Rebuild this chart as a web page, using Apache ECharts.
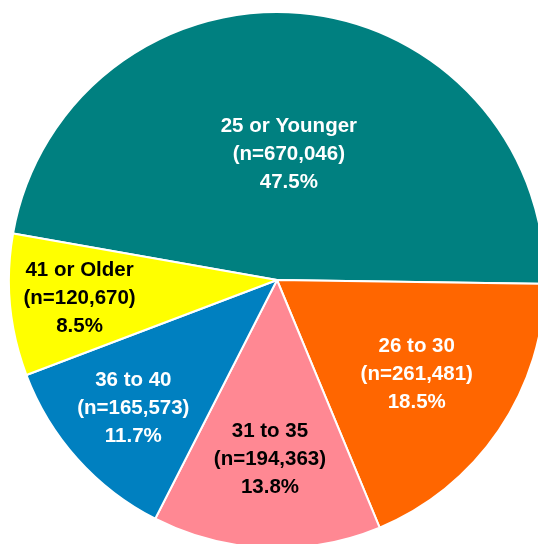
<!DOCTYPE html>
<html>
<head>
<meta charset="utf-8">
<script src="https://cdn.jsdelivr.net/npm/echarts@6/dist/echarts.min.js"></script>
<style>
  html, body { margin: 0; padding: 0; background: #fff; }
  #main { width: 538px; height: 544px; }
</style>
</head>
<body>
<div id="main"></div>
<script>
// age groups and counts
const categories = ['25 or Younger', '26 to 30', '31 to 35', '36 to 40', '41 or Older'];
const counts = [670046, 261481, 194363, 165573, 120670];
const percents = ['47.5%', '18.5%', '13.8%', '11.7%', '8.5%'];

const colors = ['#008080', '#FF6600', '#FF8893', '#0080C0', '#FFFF00'];
const labelColors = ['#fff', '#fff', '#000', '#fff', '#000'];
// how far out each label sits (fraction of radius)
const labelR = [0.47, 0.63, 0.67, 0.72, 0.74];

const cx = 277, cy = 280, R = 268;

let chart = echarts.init(document.getElementById('main'));

const fmt = n => n.toLocaleString('en-US');

let data = categories.map((c, i) => ({
    name: c,
    value: counts[i],
    itemStyle: {color: colors[i]},
    label: {color: labelColors[i]}
}));

chart.setOption({
    animation: false,
    series: [{
        type: 'pie',
        center: [cx, cy],
        radius: [0, R],
        startAngle: 170,
        clockwise: true,
        data: data,
        itemStyle: {
            borderColor: '#fff',
            borderWidth: 2
        },
        label: {
            show: true,
            position: 'inside',
            fontFamily: 'Liberation Sans, Arial, sans-serif',
            fontWeight: 'bold',
            fontSize: 20.5,
            lineHeight: 28,
            align: 'center',
            formatter: (p) => `${p.name}\n(n=${fmt(p.value)})\n${percents[p.dataIndex]}`
        },
        labelLayout: (params) => {
            let r = params.labelRect;
            let lx = r.x + r.width / 2, ly = r.y + r.height / 2;
            let dx = lx - cx, dy = ly - cy;
            let d = Math.sqrt(dx * dx + dy * dy) || 1;
            let k = labelR[params.dataIndex] * R / d;
            return {x: cx + dx * k, y: cy + dy * k, align: 'center', verticalAlign: 'middle'};
        },
        labelLine: {show: false},
        emphasis: {disabled: true}
    }]
});
</script>
</body>
</html>
